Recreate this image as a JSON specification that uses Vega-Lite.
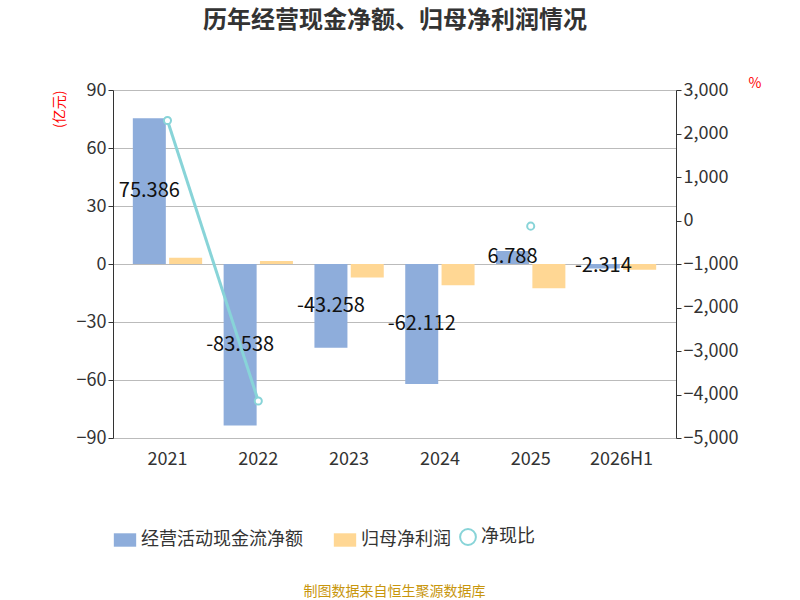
{
  "$schema": "https://vega.github.io/schema/vega-lite/v6.json",
  "width": 563,
  "height": 348,
  "padding": {"left": 52, "top": 8, "right": 30, "bottom": 4},
  "title": {"text": "制图数据来自恒生聚源数据库", "orient": "bottom", "fontSize": 14, "font": "Noto Sans CJK SC", "fontWeight": "normal", "color": "#C8960C", "offset": 36, "anchor": "middle"},
  "config": {"font": "Noto Sans CJK SC", "view": {"stroke": null}},
  "datasets": {
    "bars": [
      {"year": "2021", "series": "经营活动现金流净额", "v": 75.386, "label": "75.386"},
      {"year": "2022", "series": "经营活动现金流净额", "v": -83.538, "label": "-83.538"},
      {"year": "2023", "series": "经营活动现金流净额", "v": -43.258, "label": "-43.258"},
      {"year": "2024", "series": "经营活动现金流净额", "v": -62.112, "label": "-62.112"},
      {"year": "2025", "series": "经营活动现金流净额", "v": 6.788, "label": "6.788"},
      {"year": "2026H1", "series": "经营活动现金流净额", "v": -2.314, "label": "-2.314"},
      {"year": "2021", "series": "归母净利润", "v": 3.2},
      {"year": "2022", "series": "归母净利润", "v": 1.5},
      {"year": "2023", "series": "归母净利润", "v": -7.0},
      {"year": "2024", "series": "归母净利润", "v": -11.0},
      {"year": "2025", "series": "归母净利润", "v": -12.5},
      {"year": "2026H1", "series": "归母净利润", "v": -3.0}
    ],
    "ratio": [
      {"year": "2021", "r": 2300, "s": "净现比"},
      {"year": "2022", "r": -4150, "s": "净现比"},
      {"year": "2023", "r": null, "s": "净现比"},
      {"year": "2024", "r": null, "s": "净现比"},
      {"year": "2025", "r": -130, "s": "净现比"}
    ]
  },
  "layer": [
    {
      "data": {"name": "bars"},
      "mark": {"type": "bar", "width": 33},
      "encoding": {
        "x": {"field": "year", "type": "ordinal", "title": null,
          "scale": {"domain": ["2021", "2022", "2023", "2024", "2025", "2026H1"]},
          "axis": {"labelAngle": 0, "labelFontSize": 18, "labelColor": "#333", "domain": false, "ticks": false, "labelPadding": 12}},
        "xOffset": {"field": "series", "sort": ["经营活动现金流净额", "归母净利润"]},
        "y": {"field": "v", "type": "quantitative", "scale": {"domain": [-90, 90]},
          "axis": {"values": [-90, -60, -30, 0, 30, 60, 90], "title": "(亿元)", "titleColor": "red", "titleFontSize": 14, "titleFontWeight": "normal", "titleAngle": -90, "titlePadding": 10, "titleAnchor": "end", "labelFontSize": 18, "labelColor": "#333", "gridColor": "#bbb", "domainColor": "#333", "tickColor": "#333"}},
        "fill": {"field": "series", "type": "nominal", "sort": ["经营活动现金流净额", "归母净利润"],
          "scale": {"range": ["#8EADDB", "#FFD794"]},
          "legend": {"orient": "bottom", "title": null, "labelFontSize": 18, "labelColor": "#333", "labelLimit": 0, "symbolType": "M-1,-0.6H1V0.6H-1Z", "symbolSize": 500, "columnPadding": 30, "offset": 60, "direction": "horizontal"}}
      }
    },
    {
      "data": {"name": "bars"},
      "transform": [{"filter": "datum.label"}, {"calculate": "datum.v/2", "as": "mid"}],
      "mark": {"type": "text", "fontSize": 20, "color": "#111"},
      "encoding": {
        "x": {"field": "year", "type": "ordinal", "axis": null},
        "xOffset": {"field": "series", "sort": ["经营活动现金流净额", "归母净利润"], "scale": {"domain": ["经营活动现金流净额", "归母净利润"]}},
        "y": {"field": "mid", "type": "quantitative", "scale": {"domain": [-90, 90]}, "axis": null},
        "text": {"field": "label"}
      }
    },
    {
      "data": {"name": "ratio"},
      "mark": {"type": "line", "strokeWidth": 3},
      "encoding": {
        "x": {"field": "year", "type": "ordinal", "axis": null},
        "y": {"field": "r", "type": "quantitative", "scale": {"domain": [-5000, 3000]},
          "axis": {"orient": "right", "values": [-5000, -4000, -3000, -2000, -1000, 0, 1000, 2000, 3000], "title": "%", "titleColor": "red", "titleFontSize": 14, "titleFontWeight": "normal", "titleAngle": 0, "titleAnchor": "end", "titleBaseline": "bottom", "titleY": 0, "titleX": 85, "labelFontSize": 18, "labelColor": "#333", "grid": false, "domainColor": "#333", "tickColor": "#333"}},
        "stroke": {"field": "s", "type": "nominal", "scale": {"range": ["#88D4D8"]},
          "legend": {"orient": "bottom", "title": null, "labelFontSize": 18, "labelColor": "#333", "symbolType": "circle", "symbolSize": 250, "symbolStrokeWidth": 2, "offset": 60}}
      }
    },
    {
      "data": {"name": "ratio"},
      "transform": [{"filter": "datum.r != null"}],
      "mark": {"type": "point", "filled": true, "fill": "white", "stroke": "#88D4D8", "strokeWidth": 2, "size": 50, "opacity": 1},
      "encoding": {
        "x": {"field": "year", "type": "ordinal", "title": "历年经营现金净额、归母净利润情况",
          "axis": {"orient": "top", "labels": false, "ticks": false, "domain": false, "titleFontSize": 24, "titleFontWeight": "bold", "titleColor": "#333", "titlePadding": 58}},
        "y": {"field": "r", "type": "quantitative", "scale": {"domain": [-5000, 3000]}, "axis": null}
      }
    }
  ],
  "resolve": {"scale": {"y": "independent", "xOffset": "shared"}, "axis": {"x": "independent"}}
}
